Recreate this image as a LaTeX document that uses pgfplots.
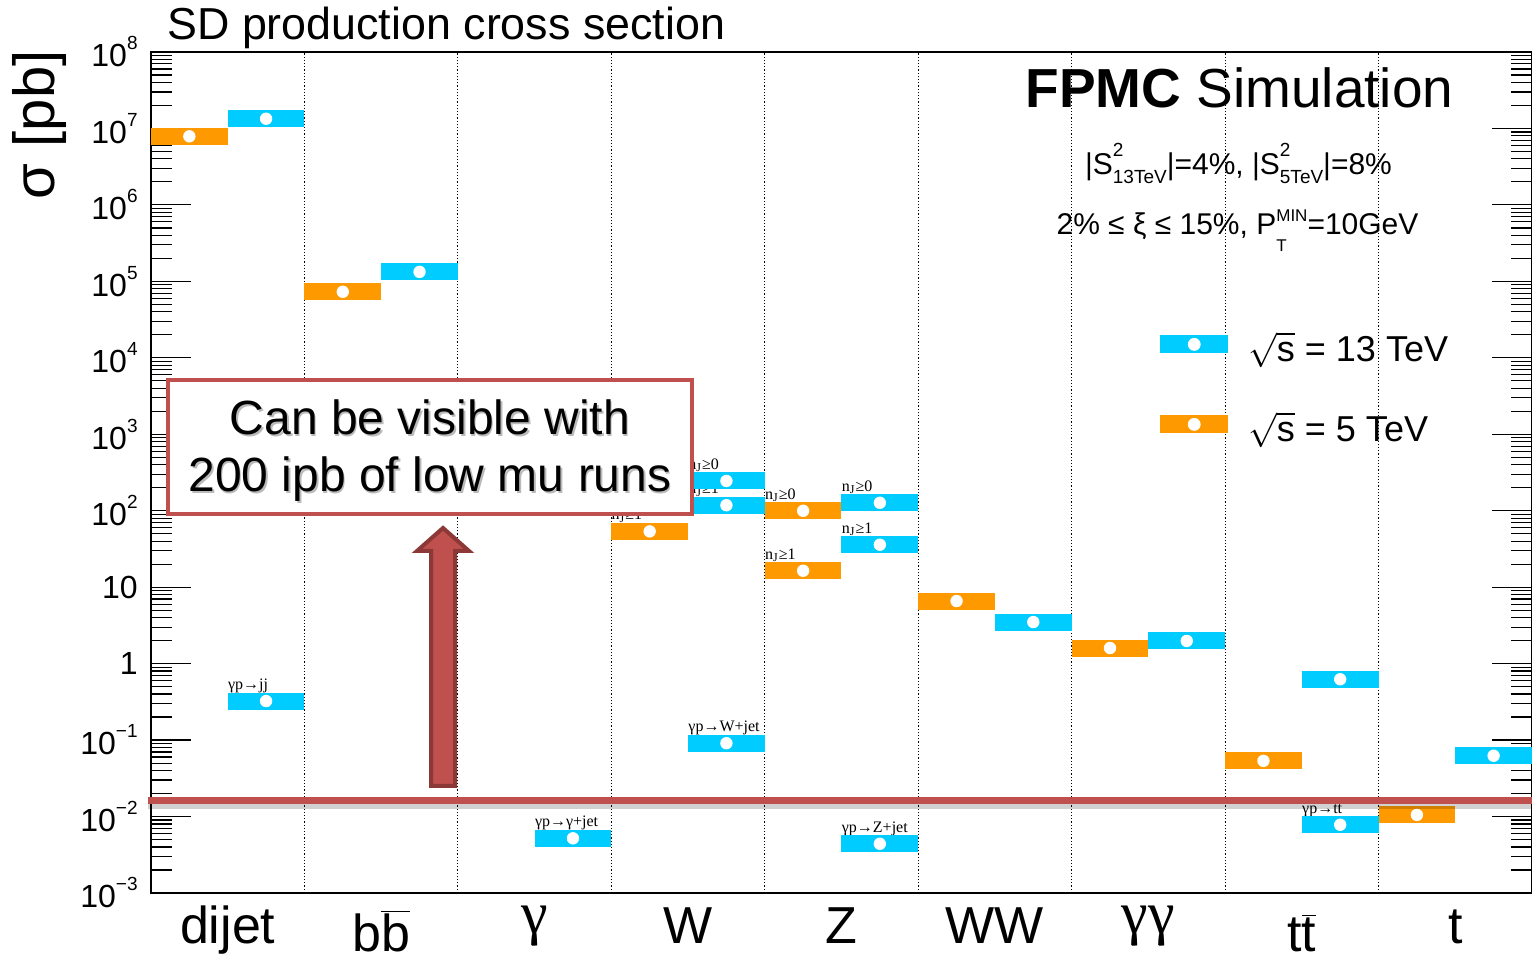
\documentclass[border=0pt]{standalone}
\usepackage{fontspec}
\setmainfont{Liberation Sans}
\newfontfamily\grk{Liberation Serif}
\usepackage{pgfplots}
\usepackage{pgfplotstable}
\pgfplotsset{compat=1.18}

\definecolor{sdblue}{HTML}{00CCFF}
\definecolor{sdorange}{HTML}{FF9900}
\definecolor{pptred}{HTML}{C0504D}
\definecolor{pptdark}{HTML}{8C3836}

% cross-section band: half a process bin wide, white dot at the central value
\pgfdeclareplotmark{sdbox}{%
  \pgfpathrectangle{\pgfpoint{-19.18pt}{-4.25pt}}{\pgfpoint{38.36pt}{8.5pt}}%
  \pgfusepathqfill
  \begin{pgfscope}%
    \pgfsetfillcolor{white}%
    \pgfpathcircle{\pgfpointorigin}{3.1pt}%
    \pgfusepathqfill
  \end{pgfscope}}

\newcommand\ee[1]{10\raisebox{8.5pt}{\fontsize{9.5}{10}\selectfont #1}}
\newcommand\lab{\grk\fontsize{8}{9}\selectfont}
\newcommand\supsub[2]{\rlap{\raisebox{9pt}{\fontsize{9.5}{10}\selectfont #1}}\raisebox{-4.5pt}{\fontsize{9.5}{10}\selectfont #2}}
\newcommand\subsup[2]{\rlap{\raisebox{-8.5pt}{\fontsize{8.5}{10}\selectfont #1}}\raisebox{6.5pt}{\fontsize{8.5}{10}\selectfont #2}}

% sqrt(s) = 13 TeV (bin centre of the right half of each process)
\pgfplotstableread{
x     y
0.75  1.34e7
0.75  0.324
1.75  1.33e5
2.75  5.19e-3
3.75  245
3.75  118
3.75  0.091
4.75  127
4.75  35.9
4.75  4.40e-3
5.75  3.50
6.75  1.98
7.75  0.624
7.75  7.81e-3
8.75  0.0624
}\thirteen

% sqrt(s) = 5 TeV (left half of each process)
\pgfplotstableread{
x     y
0.25  7.89e6
1.25  7.3e4
3.25  190
3.25  53.7
4.25  99.7
4.25  16.4
5.25  6.59
6.25  1.60
7.25  0.0535
8.25  0.0105
}\five

\begin{document}
\begin{tikzpicture}
\path[use as bounding box] (-75.5pt,-34.5pt) rectangle (690.5pt,446.5pt);
\begin{axis}[
  at={(0pt,0pt)}, anchor=south west,
  scale only axis, width=690.5pt, height=420.5pt,
  xmin=0, xmax=9,
  ymode=log, ymin=1e-3, ymax=1e8,
  axis on top,
  axis line style={black, line width=0.6pt},
  tick style={black, line width=0.6pt},
  major tick length=20pt, minor tick length=10.5pt,
  ytick={1e-3,1e-2,1e-1,1,10,100,1e3,1e4,1e5,1e6,1e7,1e8},
  yticklabels={\ee{−3},\ee{−2},\ee{−1},1,10,\ee{2},\ee{3},\ee{4},\ee{5},\ee{6},\ee{7},\ee{8}},
  minor ytick={2e-3,3e-3,4e-3,5e-3,6e-3,7e-3,8e-3,9e-3,
               2e-2,3e-2,4e-2,5e-2,6e-2,7e-2,8e-2,9e-2,
               2e-1,3e-1,4e-1,5e-1,6e-1,7e-1,8e-1,9e-1,
               2,3,4,5,6,7,8,9,
               20,30,40,50,60,70,80,90,
               200,300,400,500,600,700,800,900,
               2e3,3e3,4e3,5e3,6e3,7e3,8e3,9e3,
               2e4,3e4,4e4,5e4,6e4,7e4,8e4,9e4,
               2e5,3e5,4e5,5e5,6e5,7e5,8e5,9e5,
               2e6,3e6,4e6,5e6,6e6,7e6,8e6,9e6,
               2e7,3e7,4e7,5e7,6e7,7e7,8e7,9e7},
  yticklabel style={font=\fontsize{16}{18}\selectfont, inner sep=0pt, anchor=east, xshift=-6.5pt},
  xtick={0.5,1.5,2.5,3.5,4.5,5.5,6.5,7.5,8.5},
  xticklabels={dijet,
    \raisebox{-4pt}{b$\overline{\mbox{b}}$},
    \raisebox{5pt}{\grk\fontsize{30}{32}\selectfont γ},
    W, Z, WW,
    \raisebox{5pt}{\grk\fontsize{30}{32}\selectfont γγ},
    \raisebox{-4pt}{t$\overline{\mbox{t}}$},
    t},
  xtick style={draw=none},
  xticklabel style={font=\fontsize{26}{30}\selectfont, inner sep=0pt, anchor=north,
    text height=19pt, text depth=0pt, yshift=-6pt},
  minor xtick={1,2,3,4,5,6,7,8},
  minor x tick style={/pgfplots/minor tick length=14pt},
  xminorgrids=true,
  minor grid style={black, line width=0.6pt, dash pattern=on 0.6pt off 1pt},
  legend cell align=left,
  legend style={draw=none, fill=none, at={(0.7306,0.6659)}, anchor=north west,
    font=\fontsize{18}{22}\selectfont, row sep=22pt, column sep=10pt, inner sep=0pt,
    nodes={inner sep=0pt, text height=14pt, text depth=4pt}},
]
\addplot[only marks, mark=sdbox, color=sdblue,
  legend image code/.code={\fill (0pt,-0.75pt) rectangle (33.5pt,7.75pt);
    \fill[white] (16.75pt,3.5pt) circle (3pt);}]
  table[x=x, y=y] {\thirteen};
\addlegendentry{$\sqrt{\mbox{s}}$ = 13 TeV}
\addplot[only marks, mark=sdbox, color=sdorange,
  legend image code/.code={\fill (0pt,-0.75pt) rectangle (33.5pt,7.75pt);
    \fill[white] (16.75pt,3.5pt) circle (3pt);}]
  table[x=x, y=y] {\five};
\addlegendentry{$\sqrt{\mbox{s}}$ = 5 TeV}

% process labels on the bands
\tikzset{lbl/.style={anchor=base west, inner sep=0pt, yshift=5.75pt, font=\lab}}
\node[lbl] at (axis cs:0.5,0.324) {γp→jj};
\node[lbl] at (axis cs:2.5,5.19e-3) {γp→γ+jet};
\node[lbl] at (axis cs:3.0,53.7) {n\textsubscript{J}≥1};
\node[lbl] at (axis cs:3.5,245) {n\textsubscript{J}≥0};
\node[lbl] at (axis cs:3.5,118) {n\textsubscript{J}≥1};
\node[lbl] at (axis cs:3.5,0.091) {γp→W+jet};
\node[lbl] at (axis cs:4.0,99.7) {n\textsubscript{J}≥0};
\node[lbl] at (axis cs:4.0,16.4) {n\textsubscript{J}≥1};
\node[lbl] at (axis cs:4.5,127) {n\textsubscript{J}≥0};
\node[lbl] at (axis cs:4.5,35.9) {n\textsubscript{J}≥1};
\node[lbl] at (axis cs:4.5,4.40e-3) {γp→Z+jet};
\node[lbl] at (axis cs:7.5,7.81e-3) {γp→t\={t}};
\end{axis}

% titles and info text
\node[anchor=base west, inner sep=0pt, font=\fontsize{22.4}{26}\selectfont] at (8pt,426.5pt) {SD production cross section};
\node[rotate=90, anchor=base east, inner sep=0pt, font=\fontsize{29}{32}\selectfont] at (-48pt,421.5pt) {σ [pb]};
\node[anchor=base west, inner sep=0pt, font=\fontsize{27.5}{32}\selectfont] at (437pt,392.5pt) {\textbf{FPMC} Simulation};
\node[anchor=base, inner sep=0pt, font=\fontsize{15}{18}\selectfont] at (543.75pt,359pt)
  {|S\supsub{2}{13TeV}|=4\%, |S\supsub{2}{5TeV}|=8\%};
\node[anchor=base, inner sep=0pt, font=\fontsize{15}{18}\selectfont] at (543.25pt,329pt)
  {2\% ≤ ξ ≤ 15\%, P\subsup{T}{MIN}=10GeV};

% reach of the low-mu runs
\draw[black, opacity=0.18, line width=2.5pt] (-1.5pt,43.3pt) -- (692pt,43.3pt);
\draw[pptred, line width=3.5pt] (-1.5pt,46.25pt) -- (692pt,46.25pt);
\draw[pptdark, line width=2pt, fill=pptred, line join=miter]
  (146pt,182.5pt) -- (159pt,171pt) -- (152pt,171pt) -- (152pt,53.5pt)
  -- (140pt,53.5pt) -- (140pt,171pt) -- (133pt,171pt) -- cycle;
\draw[pptred, line width=2pt, fill=white] (8.5pt,189.5pt) rectangle (270.5pt,256.5pt);
\begin{scope}[font=\fontsize{24}{28}\selectfont]
\node[anchor=base, inner sep=0pt, text=black!45, opacity=0.6] at (140.3pt,228.2pt) {Can be visible with};
\node[anchor=base, inner sep=0pt, text=black!45, opacity=0.6] at (140.3pt,199.7pt) {200 ipb of low mu runs};
\node[anchor=base, inner sep=0pt] at (139.5pt,229pt) {Can be visible with};
\node[anchor=base, inner sep=0pt] at (139.5pt,200.5pt) {200 ipb of low mu runs};
\end{scope}
\end{tikzpicture}
\end{document}
